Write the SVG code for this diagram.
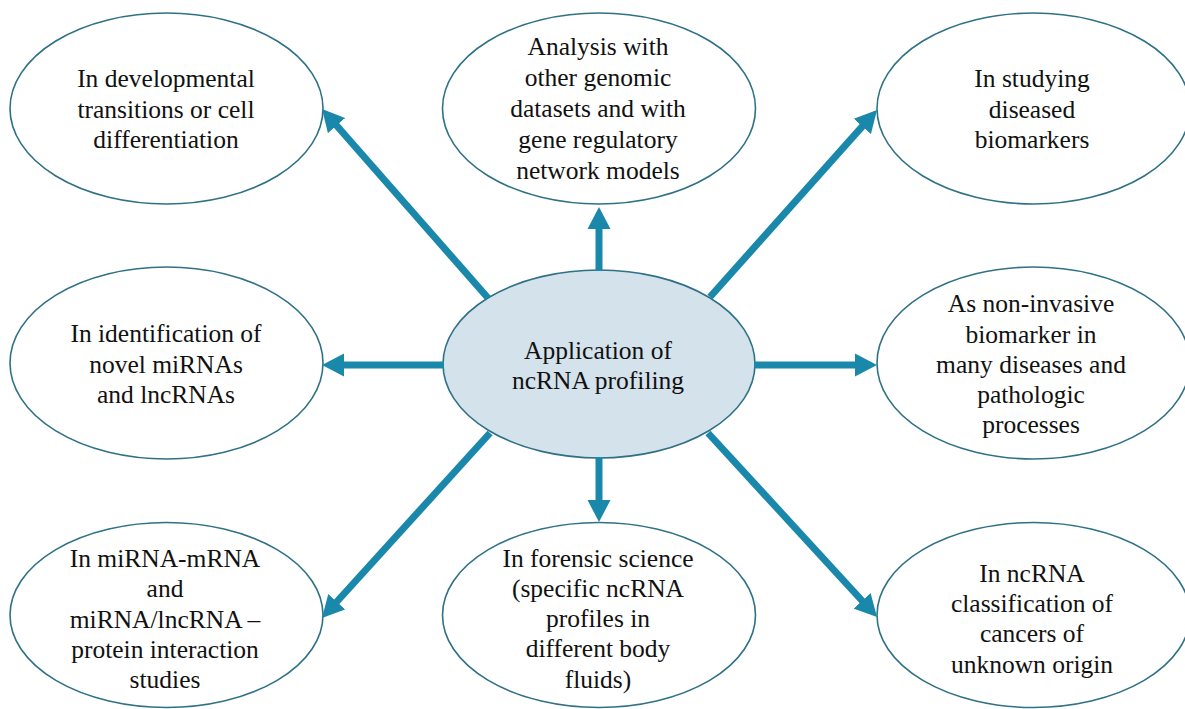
<svg xmlns="http://www.w3.org/2000/svg" width="1185" height="709" viewBox="0 0 1185 709">
<style>
.node ellipse{fill:#ffffff;stroke:#2f7186;stroke-width:1.6}
#center ellipse{fill:#d4e2eb}
text{font-family:'Liberation Serif','DejaVu Serif',serif;font-size:25.5px;fill:#111111;text-anchor:middle}
.conn line{stroke:#1a88aa;stroke-width:7;fill:none}
</style>
<defs>
<marker id="ah" markerUnits="userSpaceOnUse" markerWidth="23" markerHeight="24" refX="1" refY="11.5" orient="auto" viewBox="0 0 23 23">
<path d="M0,0 L22,11.5 L0,23 z" fill="#1a88aa"/>
</marker>
</defs>
<rect width="1185" height="709" fill="#ffffff"/>
<g id="n-top-left" class="node">
<ellipse cx="166.5" cy="108.5" rx="156.5" ry="95.5"/>
<text x="166" y="87">In developmental</text>
<text x="166" y="118">transitions or cell</text>
<text x="166" y="148">differentiation</text>
</g>
<g id="n-top-center" class="node">
<ellipse cx="599" cy="108.5" rx="156.5" ry="95.5"/>
<text x="598" y="55">Analysis with</text>
<text x="598" y="86">other genomic</text>
<text x="598" y="117">datasets and with</text>
<text x="598" y="148">gene regulatory</text>
<text x="598" y="179">network models</text>
</g>
<g id="n-top-right" class="node">
<ellipse cx="1033.5" cy="108.5" rx="156.5" ry="95.5"/>
<text x="1032" y="87">In studying</text>
<text x="1032" y="118">diseased</text>
<text x="1032" y="148">biomarkers</text>
</g>
<g id="n-mid-left" class="node">
<ellipse cx="166.5" cy="363" rx="156.5" ry="96"/>
<text x="166" y="342">In identification of</text>
<text x="166" y="373">novel miRNAs</text>
<text x="166" y="403">and lncRNAs</text>
</g>
<g id="center" class="node">
<ellipse cx="599" cy="364" rx="156" ry="94"/>
<text x="598" y="359">Application of</text>
<text x="598" y="389">ncRNA profiling</text>
</g>
<g id="n-mid-right" class="node">
<ellipse cx="1033.5" cy="363" rx="156.5" ry="96"/>
<text x="1031" y="312">As non-invasive</text>
<text x="1031" y="343">biomarker in</text>
<text x="1031" y="373">many diseases and</text>
<text x="1031" y="403">pathologic</text>
<text x="1031" y="433">processes</text>
</g>
<g id="n-bottom-left" class="node">
<ellipse cx="166.5" cy="615" rx="156.5" ry="92.5"/>
<text x="165" y="567">In miRNA-mRNA</text>
<text x="165" y="597">and</text>
<text x="165" y="628">miRNA/lncRNA –</text>
<text x="165" y="658">protein interaction</text>
<text x="165" y="688">studies</text>
</g>
<g id="n-bottom-center" class="node">
<ellipse cx="599" cy="615" rx="156.5" ry="92.5"/>
<text x="598" y="567">In forensic science</text>
<text x="598" y="597">(specific ncRNA</text>
<text x="598" y="627">profiles in</text>
<text x="598" y="657">different body</text>
<text x="598" y="688">fluids)</text>
</g>
<g id="n-bottom-right" class="node">
<ellipse cx="1033.5" cy="615" rx="156.5" ry="92.5"/>
<text x="1032" y="582">In ncRNA</text>
<text x="1032" y="612">classification of</text>
<text x="1032" y="642">cancers of</text>
<text x="1032" y="673">unknown origin</text>
</g>
<g id="connectors" class="conn">
<line x1="599" y1="271" x2="599" y2="228" marker-end="url(#ah)"/>
<line x1="488" y1="298" x2="335.9" y2="124.8" marker-end="url(#ah)"/>
<line x1="710" y1="297" x2="863" y2="125.7" marker-end="url(#ah)"/>
<line x1="444" y1="365" x2="343" y2="365" marker-end="url(#ah)"/>
<line x1="754" y1="365" x2="856" y2="365" marker-end="url(#ah)"/>
<line x1="490" y1="433" x2="336.1" y2="602.5" marker-end="url(#ah)"/>
<line x1="708" y1="433" x2="862.8" y2="601.5" marker-end="url(#ah)"/>
<line x1="599" y1="457" x2="599" y2="501" marker-end="url(#ah)"/>
</g>
</svg>
